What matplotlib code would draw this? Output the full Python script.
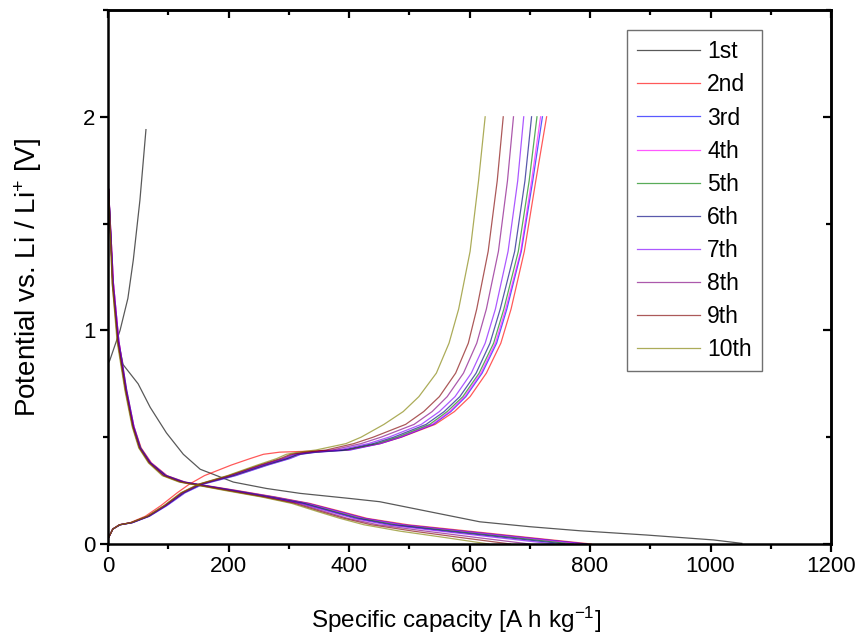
import matplotlib
matplotlib.use("Agg")
import matplotlib.pyplot as plt
from matplotlib.ticker import MultipleLocator

plt.rcParams["font.family"] = ["Liberation Sans", "DejaVu Sans"]
plt.rcParams["mathtext.fontset"] = "custom"
plt.rcParams["mathtext.rm"] = "Liberation Sans"
plt.rcParams["mathtext.it"] = "Liberation Sans:italic"

# ---------------------------------------------------------------------------
# Data (capacity in A h kg-1, potential in V)
# ---------------------------------------------------------------------------
labels = ["1st", "2nd", "3rd", "4th", "5th", "6th", "7th", "8th", "9th", "10th"]
colors = ["#000000", "#FF0000", "#0000FF", "#FF00FF", "#008000",
          "#000080", "#8000FF", "#800080", "#800000", "#808000"]

# 1st cycle (own grids)
cap_dis_1 = [1, 8, 17, 25, 50, 70, 97, 125, 153, 208, 263, 319, 402, 451,
             534, 617, 700, 783, 894, 1005, 1052]
v_dis_1 = [1.66, 1.22, 0.95, 0.84, 0.75, 0.64, 0.52, 0.42, 0.35, 0.29, 0.26,
           0.237, 0.213, 0.198, 0.151, 0.104, 0.081, 0.062, 0.042, 0.019, 0.003]
cap_chg_1 = [1, 3, 20, 33, 42, 53, 63]
v_chg_1 = [0.85, 0.86, 1.0, 1.15, 1.33, 1.61, 1.94]

# cycles 2-10, discharge: capacity at shared potentials
v_dis = [1.66, 1.22, 0.95, 0.72, 0.55, 0.45, 0.38, 0.32, 0.29, 0.275, 0.25,
         0.22, 0.19, 0.15, 0.12, 0.09, 0.06, 0.03, 0.0]
cap_dis_2 = [1, 9, 18, 31, 43, 55, 72, 98, 128, 160, 215, 278, 335, 390, 430, 498, 600, 700, 802]
cap_dis_3 = [1, 9, 18, 31, 43, 54, 71, 97, 127, 158, 212, 275, 332, 386, 426, 490, 590, 692, 795]
cap_dis_4 = [1, 9, 18, 30, 43, 54, 71, 97, 126, 157, 211, 273, 329, 382, 422, 484, 582, 684, 785]
cap_dis_5 = [1, 8, 17, 30, 42, 54, 70, 96, 125, 156, 209, 270, 326, 378, 418, 477, 573, 673, 772]
cap_dis_6 = [1, 8, 17, 30, 42, 53, 70, 95, 124, 155, 207, 267, 323, 374, 413, 470, 563, 661, 758]
cap_dis_7 = [1, 8, 17, 30, 42, 53, 69, 94, 123, 154, 205, 265, 320, 370, 408, 462, 552, 646, 740]
cap_dis_8 = [1, 8, 16, 29, 41, 52, 69, 93, 122, 152, 202, 262, 315, 362, 398, 448, 528, 613, 700]
cap_dis_9 = [1, 7, 16, 29, 41, 52, 68, 92, 120, 150, 199, 259, 310, 356, 392, 437, 507, 586, 668]
cap_dis_10 = [1, 7, 15, 28, 40, 51, 67, 90, 118, 148, 195, 255, 305, 350, 385, 425, 485, 560, 632]

# cycles 2-10, charge: capacity at shared potentials
v_chg = [0.03, 0.07, 0.09, 0.10, 0.13, 0.18, 0.24, 0.28, 0.32, 0.37, 0.40, 0.42,
         0.43, 0.44, 0.47, 0.50, 0.56, 0.62, 0.69, 0.80, 0.94, 1.10, 1.37, 1.70, 2.00]
cap_chg_2 = [1, 8, 19, 37, 62, 88, 115, 135, 160, 205, 236, 258, 285, 395, 452, 487, 543, 575, 601, 628, 652, 669, 691, 710, 728]
cap_chg_3 = [1, 8, 20, 41, 69, 98, 128, 158, 212, 266, 302, 320, 347, 402, 452, 486, 540, 569, 594, 621, 645, 662, 686, 705, 721]
cap_chg_4 = [1, 8, 20, 40, 68, 97, 127, 156, 210, 264, 300, 318, 345, 400, 450, 484, 538, 567, 592, 619, 643, 660, 685, 703, 718]
cap_chg_5 = [1, 8, 20, 40, 68, 96, 126, 155, 208, 262, 298, 316, 343, 396, 446, 480, 534, 563, 589, 616, 640, 657, 681, 699, 712]
cap_chg_6 = [1, 8, 20, 40, 67, 96, 125, 154, 206, 260, 296, 314, 340, 390, 440, 474, 528, 558, 584, 611, 634, 651, 675, 692, 703]
cap_chg_7 = [1, 8, 19, 39, 67, 95, 124, 153, 204, 258, 293, 311, 336, 382, 432, 466, 520, 550, 576, 603, 626, 643, 664, 680, 690]
cap_chg_8 = [1, 8, 19, 39, 66, 94, 123, 152, 202, 255, 290, 307, 330, 372, 420, 453, 508, 538, 563, 590, 612, 628, 648, 663, 673]
cap_chg_9 = [1, 8, 19, 38, 66, 94, 122, 151, 200, 252, 286, 303, 325, 362, 408, 440, 494, 524, 550, 577, 598, 612, 631, 646, 656]
cap_chg_10 = [1, 8, 19, 38, 65, 93, 121, 150, 198, 248, 280, 296, 316, 345, 395, 420, 458, 490, 516, 545, 566, 582, 601, 615, 626]

dis_caps = [cap_dis_2, cap_dis_3, cap_dis_4, cap_dis_5, cap_dis_6,
            cap_dis_7, cap_dis_8, cap_dis_9, cap_dis_10]
chg_caps = [cap_chg_2, cap_chg_3, cap_chg_4, cap_chg_5, cap_chg_6,
            cap_chg_7, cap_chg_8, cap_chg_9, cap_chg_10]

# ---------------------------------------------------------------------------
fig = plt.figure(figsize=(8.58, 6.39), dpi=100)
ax = fig.add_axes([108 / 858, 95 / 639, 723 / 858, 534 / 639])

LW, ALPHA = 0.9, 0.65
ax.plot(cap_dis_1, v_dis_1, color=colors[0], lw=LW, alpha=ALPHA, label=labels[0])
ax.plot(cap_chg_1, v_chg_1, color=colors[0], lw=LW, alpha=ALPHA)
for i in range(9):
    c = colors[i + 1]
    ax.plot(dis_caps[i], v_dis, color=c, lw=LW, alpha=ALPHA, label=labels[i + 1])
    ax.plot(chg_caps[i], v_chg, color=c, lw=LW, alpha=ALPHA)

ax.set_xlim(0, 1200)
ax.set_ylim(0, 2.5)
ax.xaxis.set_major_locator(MultipleLocator(200))
ax.xaxis.set_minor_locator(MultipleLocator(100))
ax.yaxis.set_major_locator(MultipleLocator(1))
ax.yaxis.set_minor_locator(MultipleLocator(0.5))

for s in ax.spines.values():
    s.set_linewidth(1.8)
ax.tick_params(which="major", direction="out", length=6, width=1.6,
               labelsize=16, pad=3)
ax.tick_params(which="minor", direction="out", length=3.5, width=1.6)

# mirrored inward ticks on top and right
top = ax.secondary_xaxis("top")
right = ax.secondary_yaxis("right")
for sec, axis in ((top, top.xaxis), (right, right.yaxis)):
    axis.set_major_locator(MultipleLocator(200 if sec is top else 1))
    axis.set_minor_locator(MultipleLocator(100 if sec is top else 0.5))
    sec.tick_params(which="major", direction="in", length=6, width=1.6)
    sec.tick_params(which="minor", direction="in", length=3.5, width=1.6)
    for s in sec.spines.values():
        s.set_linewidth(1.8)
top.tick_params(labeltop=False)
right.tick_params(labelright=False)

ax.set_xlabel(r"Specific capacity [A h kg$^{\mathregular{-1}}$]", fontsize=17.5)
ax.xaxis.set_label_coords(0.481, -0.113)
ax.set_ylabel(r"Potential vs. Li / Li$^{\mathregular{+}}$ [V]", fontsize=20, labelpad=28)

leg = ax.legend(loc="upper left", bbox_to_anchor=(0.718, 0.9625), fontsize=16.5,
                frameon=True, fancybox=False, framealpha=1, edgecolor="#707070",
                handlelength=2.75, handletextpad=0.3, labelspacing=0.44,
                borderpad=0.45, borderaxespad=0)
leg.get_frame().set_linewidth(1.0)

fig.savefig("out.png", dpi=100)
